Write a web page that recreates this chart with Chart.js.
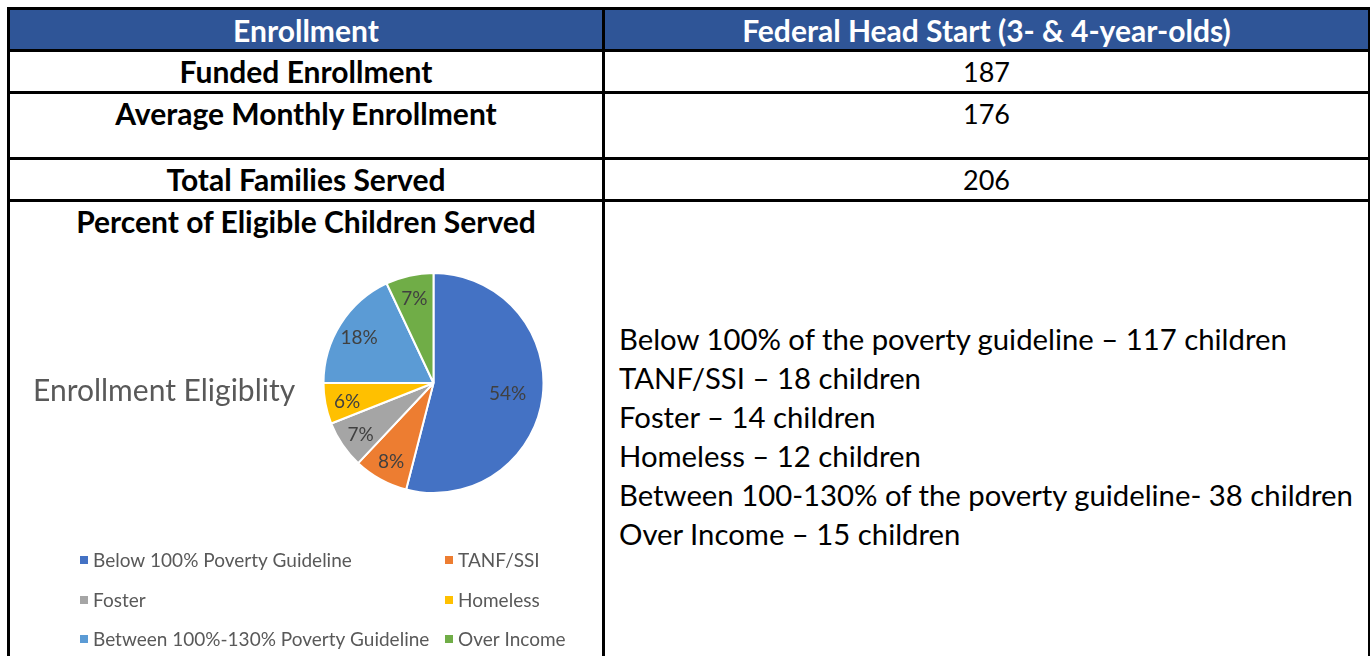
<!DOCTYPE html>
<html>
<head>
<meta charset="utf-8">
<script src="https://cdn.jsdelivr.net/npm/chart.js@4.4.1/dist/chart.umd.min.js"></script>
<style>
  html, body { margin: 0; padding: 0; background: #fff; }
  body { width: 1371px; height: 656px; position: relative; overflow: hidden; font-family: Lato, "Open Sans", sans-serif; }
  .hl { position: absolute; background: #000; height: 3px; left: 7px; width: 1363px; }
  .vl { position: absolute; background: #000; width: 3px; top: 7px; height: 660px; }
  .cell { position: absolute; text-align: center; white-space: nowrap; }
  .head { color: #fff; font-weight: 700; font-size: 30px; }
  .lbl { font-weight: 700; font-size: 30px; color: #000; }
  .val { font-size: 27px; color: #000; }
  #list { position: absolute; left: 619px; top: 319px; font-size: 29.3px; line-height: 39px; color: #000; white-space: nowrap; }
</style>
</head>
<body>
<div style="position:absolute;left:9px;top:9px;width:1360px;height:41px;background:#2F5597"></div>
<div class="hl" style="top:7px"></div>
<div class="hl" style="top:49px"></div>
<div class="hl" style="top:91px"></div>
<div class="hl" style="top:157px"></div>
<div class="hl" style="top:199px"></div>
<div class="vl" style="left:7px"></div>
<div class="vl" style="left:602px"></div>
<div class="vl" style="left:1368px;width:2px"></div>

<div class="cell head" style="left:10px;width:592px;top:11px;line-height:38px">Enrollment</div>
<div class="cell head" style="left:605px;width:763px;top:11px;line-height:38px">Federal Head Start (3- &amp; 4-year-olds)</div>

<div class="cell lbl" style="left:10px;width:592px;top:51px;line-height:40px">Funded Enrollment</div>
<div class="cell lbl" style="left:10px;width:592px;top:93px;line-height:40px">Average Monthly Enrollment</div>
<div class="cell lbl" style="left:10px;width:592px;top:159px;line-height:40px">Total Families Served</div>
<div class="cell lbl" style="left:10px;width:592px;top:201px;line-height:40px">Percent of Eligible Children Served</div>

<div class="cell val" style="left:605px;width:763px;top:52px;line-height:40px">187</div>
<div class="cell val" style="left:605px;width:763px;top:94px;line-height:40px">176</div>
<div class="cell val" style="left:605px;width:763px;top:160px;line-height:40px">206</div>

<div id="list"></div>

<canvas id="pie" width="592" height="411" style="position:absolute;left:10px;top:245px;width:592px;height:411px"></canvas>

<script>
// pie categories and shares (percent labels as printed on the chart)
const categories = ["Below 100% Poverty Guideline", "TANF/SSI", "Foster", "Homeless", "Between 100%-130% Poverty Guideline", "Over Income"];
const shares = [54, 8, 7, 6, 18, 7];
const colors = ["#4472C4", "#ED7D31", "#A5A5A5", "#FFC000", "#5B9BD5", "#70AD47"];

// text list in right column
const listNames = ["Below 100% of the poverty guideline –", "TANF/SSI –", "Foster –", "Homeless –", "Between 100-130% of the poverty guideline-", "Over Income –"];
const listCounts = [117, 18, 14, 12, 38, 15];

document.getElementById("list").innerHTML = listNames.map(function(n, i){
    return n + " " + listCounts[i] + " children";
}).join("<br>");

// labels inside the slices
const sliceLabels = {
    id: "sliceLabels",
    afterDatasetsDraw: function(chart){
        const ctx = chart.ctx;
        const meta = chart.getDatasetMeta(0);
        ctx.save();
        ctx.font = "19px Lato";
        ctx.fillStyle = "#404040";
        ctx.textAlign = "center";
        ctx.textBaseline = "middle";
        meta.data.forEach(function(arc, i){
            const p = arc.getProps(["x", "y", "startAngle", "endAngle", "outerRadius"], true);
            const mid = (p.startAngle + p.endAngle) / 2;
            const r = p.outerRadius * (shares[i] > 40 ? 0.68 : 0.8);
            ctx.fillText(chart.data.datasets[0].data[i] + "%", p.x + Math.cos(mid) * r, p.y + Math.sin(mid) * r + 2);
        });
        ctx.restore();
    }
};

// title at left and the two-column legend underneath
const sideTitle = {
    id: "sideTitle",
    afterDraw: function(chart){
        const ctx = chart.ctx;
        ctx.save();
        ctx.font = "30px Lato";
        ctx.fillStyle = "#595959";
        ctx.textBaseline = "middle";
        ctx.fillText("Enrollment Eligiblity", 23, 146);

        ctx.font = "19px Lato";
        const colX = [70, 435];
        const rowY = [315, 355, 394];
        chart.data.labels.forEach(function(lab, i){
            const x = colX[i % 2], y = rowY[Math.floor(i / 2)];
            ctx.fillStyle = chart.data.datasets[0].backgroundColor[i];
            ctx.fillRect(x, y - 4, 8, 8);
            ctx.fillStyle = "#595959";
            ctx.fillText(lab, x + 13, y + 1);
        });
        ctx.restore();
    }
};

new Chart(document.getElementById("pie"), {
    type: "pie",
    data: {
        labels: categories,
        datasets: [{
            data: shares,
            backgroundColor: colors,
            borderColor: "#ffffff",
            borderWidth: 2
        }]
    },
    options: {
        responsive: false,
        animation: false,
        layout: { padding: { left: 312, top: 27, right: 57, bottom: 162 } },
        plugins: {
            legend: { display: false },
            tooltip: { enabled: false }
        }
    },
    plugins: [sliceLabels, sideTitle]
});
</script>
</body>
</html>
